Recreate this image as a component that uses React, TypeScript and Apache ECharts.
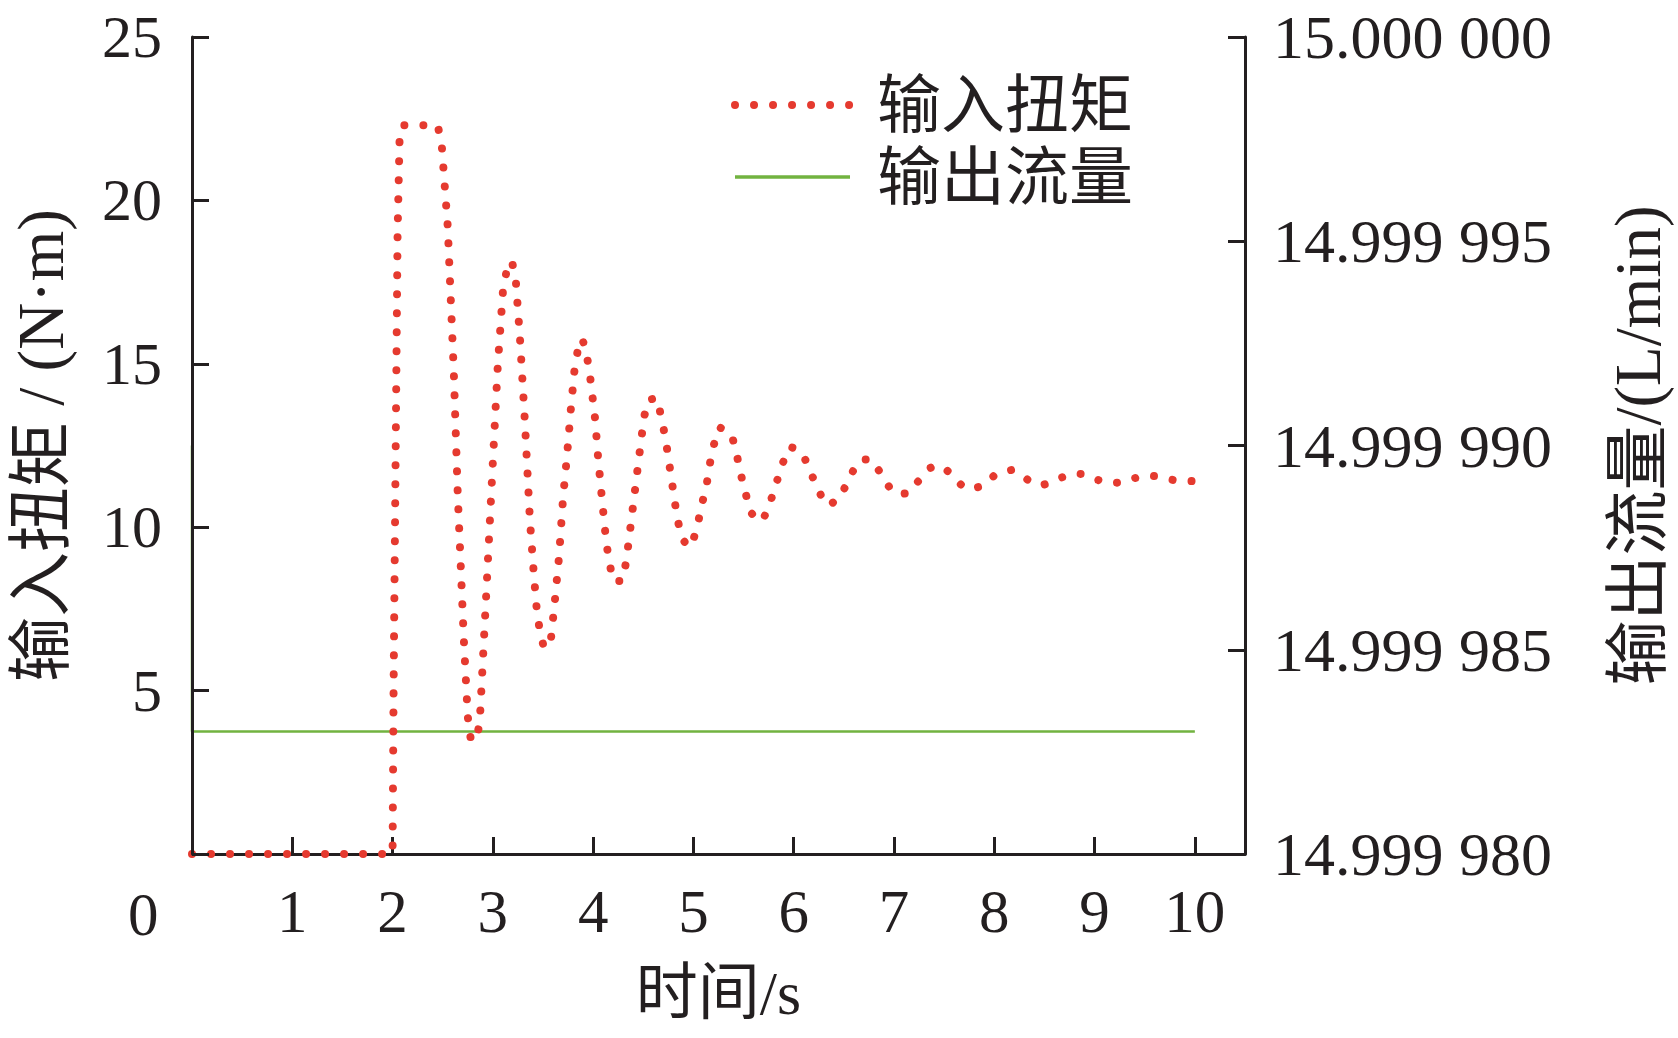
import React, { useEffect, useRef } from "react";
import * as echarts from "echarts";

// ---- data ----
const torqueT = [
  0, 2.0, 2.01, 2.03, 2.05, 2.07, 2.1, 2.45, 2.49,
  2.55, 2.61, 2.65, 2.71, 2.75, 2.78, 2.84,
  2.87, 2.93, 2.99, 3.05, 3.1, 3.14, 3.19, 3.23,
  3.27, 3.32, 3.37, 3.41, 3.44, 3.47, 3.51, 3.56, 3.58,
  3.62, 3.66, 3.7, 3.74, 3.78, 3.82, 3.86, 3.89, 3.93,
  3.97, 4.02, 4.05, 4.09, 4.13, 4.16, 4.2, 4.29,
  4.33, 4.38, 4.43, 4.48, 4.51, 4.55, 4.64,
  4.68, 4.72, 4.78, 4.84, 4.89, 4.94, 4.98,
  5.04, 5.08, 5.13, 5.16, 5.2, 5.26,
  5.38, 5.43, 5.47, 5.52, 5.57, 5.63, 5.69,
  5.77, 5.83, 5.89, 5.96, 6.03, 6.09, 6.17, 6.24, 6.32, 6.39, 6.46,
  6.55, 6.64, 6.71, 6.78, 6.89, 6.98, 7.07, 7.15, 7.27, 7.35, 7.43,
  7.5, 7.57, 7.65, 7.72, 7.8, 7.87, 8.0, 8.08, 8.17, 8.24, 8.3, 8.38,
  8.46, 8.55, 8.65, 8.79, 8.87, 8.95, 9.03, 9.11, 9.2, 9.28, 9.37,
  9.45, 9.54, 9.62, 9.7, 9.79, 9.87, 10.0,
];
const torqueV = [
  0, 0, 5, 12, 19, 21.9, 22.3, 22.3, 21.7,
  19.2, 14.8, 11.0, 6.6, 4.2, 3.5, 3.5,
  4.1, 7.7, 11.4, 15.0, 17.2, 17.9, 18.15, 17.5,
  15.8, 13.2, 10.2, 8.5, 7.4, 6.8, 6.3, 6.4, 6.6,
  7.8, 9.1, 10.9, 12.2, 13.7, 15.0, 15.6, 15.77, 15.4,
  14.6, 13.3, 12.1, 10.8, 9.56, 8.95, 8.35, 8.35,
  8.95, 10.2, 11.45, 12.7, 13.4, 13.9, 13.95,
  13.34, 12.75, 11.5, 10.24, 9.65, 9.42, 9.42,
  10.04, 10.65, 11.26, 11.88, 12.49, 13.06,
  12.85, 12.25, 11.65, 11.04, 10.46, 10.25, 10.19,
  10.8, 11.38, 11.96, 12.46, 12.4, 12.25, 11.67, 11.17, 10.68, 10.75, 10.9,
  11.47, 12.01, 12.07, 12.07, 11.54, 11.09, 11.02, 11.04, 11.52, 11.8, 11.9,
  11.8, 11.64, 11.35, 11.17, 11.2, 11.25, 11.58, 11.7, 11.75, 11.65, 11.52, 11.35,
  11.27, 11.35, 11.5, 11.64, 11.63, 11.58, 11.45, 11.37, 11.36, 11.37, 11.47,
  11.55, 11.57, 11.56, 11.5, 11.44, 11.42, 11.41,
];

const flowT = [0, 0, 10];
const flowV = [14.99999, 14.999983, 14.999983];

const flowBase = 14.99998; // bottom of the right axis (L/min)
const flowTicks = ["14.999 980", "14.999 985", "14.999 990", "14.999 995", "15.000 000"];
const xTickLabels = ["1", "2", "3", "4", "5", "6", "7", "8", "9", "10"];

const seriesNames = ["输入扭矩", "输出流量"];
const xName = "时间/s";
const yLeftName = "输入扭矩 / (N·m)";
const yRightName = "输出流量/(L/min)";

const FONT = "'Liberation Serif', 'Times New Roman', 'Noto Sans CJK SC', serif";
const INK = "#231f20";
const RED = "#e53a2f";
const GREEN = "#72b340";

export default function App() {
  const ref = useRef<HTMLDivElement>(null);

  useEffect(() => {
    if (!ref.current) return;
    const chart = echarts.init(ref.current, null, { renderer: "svg" });

    const torqueData = torqueT.map((t, i) => [t, torqueV[i]]);
    const flowData = flowT.map((t, i) => [
      t,
      Math.round((flowV[i] - flowBase) * 1e6 * 1000) / 1000,
    ]);

    const axisLine = { show: true, lineStyle: { color: INK, width: 3 } };
    const axisTick = { show: true, inside: true, length: 17, lineStyle: { color: INK, width: 3 } };
    const hiddenSymbol = { color: "transparent", borderWidth: 0, opacity: 0 };

    chart.setOption({
      animation: false,
      backgroundColor: "#ffffff",
      textStyle: { fontFamily: FONT },
      grid: { left: 188, right: 433, top: 37, bottom: 184, containLabel: false },
      legend: {
        orient: "vertical",
        left: 726,
        top: 68,
        itemWidth: 115,
        itemHeight: 20,
        itemGap: 8,
        data: [
          {
            name: seriesNames[0],
            itemStyle: hiddenSymbol,
            lineStyle: { color: RED, width: 8, type: [0.01, 19], cap: "round" },
          },
          {
            name: seriesNames[1],
            itemStyle: hiddenSymbol,
            lineStyle: { color: GREEN, width: 3.5 },
          },
        ],
        textStyle: {
          fontFamily: FONT,
          fontSize: 64,
          lineHeight: 64,
          color: INK,
          padding: [0, 0, 0, 22],
        },
      },
      xAxis: {
        type: "value",
        min: 0,
        max: 10.5,
        interval: 1,
        axisLine,
        axisTick,
        splitLine: { show: false },
        axisLabel: {
          fontFamily: FONT,
          fontSize: 61,
          color: INK,
          margin: 27,
          formatter: (v: number) => {
            const idx = Math.round(v) - 1;
            return Math.abs(v - Math.round(v)) < 1e-9 && idx >= 0 && idx < xTickLabels.length
              ? xTickLabels[idx]
              : "";
          },
        },
        name: xName,
        nameLocation: "middle",
        nameGap: 108,
        nameTextStyle: { fontFamily: FONT, fontSize: 62, color: INK },
      },
      yAxis: [
        {
          type: "value",
          position: "left",
          min: 0,
          max: 25,
          interval: 5,
          z: 5,
          axisLine,
          axisTick,
          splitLine: { show: false },
          axisLabel: {
            fontFamily: FONT,
            fontSize: 60,
            color: INK,
            margin: 30,
            formatter: (v: number) => (v === 0 ? "" : String(v)),
          },
          name: yLeftName,
          nameLocation: "middle",
          nameRotate: 90,
          nameGap: 119,
          nameTextStyle: { fontFamily: FONT, fontSize: 65, color: INK },
        },
        {
          type: "value",
          position: "right",
          min: 0,
          max: 20,
          interval: 5,
          alignTicks: false,
          axisLine,
          axisTick,
          splitLine: { show: false },
          axisLabel: {
            fontFamily: FONT,
            fontSize: 62,
            color: INK,
            margin: 28,
            formatter: (v: number) => flowTicks[Math.round(v / 5)] ?? "",
          },
          name: yRightName,
          nameLocation: "middle",
          nameRotate: 90,
          nameGap: 360,
          nameTextStyle: { fontFamily: FONT, fontSize: 65, color: INK },
        },
      ],
      series: [
        {
          name: seriesNames[0],
          type: "line",
          xAxisIndex: 0,
          yAxisIndex: 0,
          data: torqueData,
          showSymbol: false,
          symbol: "none",
          color: RED,
          lineStyle: { color: RED, width: 8, type: [0.01, 19], cap: "round", join: "round" },
          z: 3,
        },
        {
          name: seriesNames[1],
          type: "line",
          xAxisIndex: 0,
          yAxisIndex: 1,
          data: flowData,
          showSymbol: false,
          symbol: "none",
          color: GREEN,
          lineStyle: { color: GREEN, width: 2.5 },
          z: 2,
        },
      ],
      graphic: [
        {
          type: "text",
          left: 128,
          top: 884,
          style: { text: "0", font: `61px ${FONT}`, fill: INK },
        },
      ],
    });

    return () => chart.dispose();
  }, []);

  return (
    <div
      ref={ref}
      style={{ position: "fixed", left: 0, top: 0, width: 1678, height: 1038, background: "#fff" }}
    />
  );
}
